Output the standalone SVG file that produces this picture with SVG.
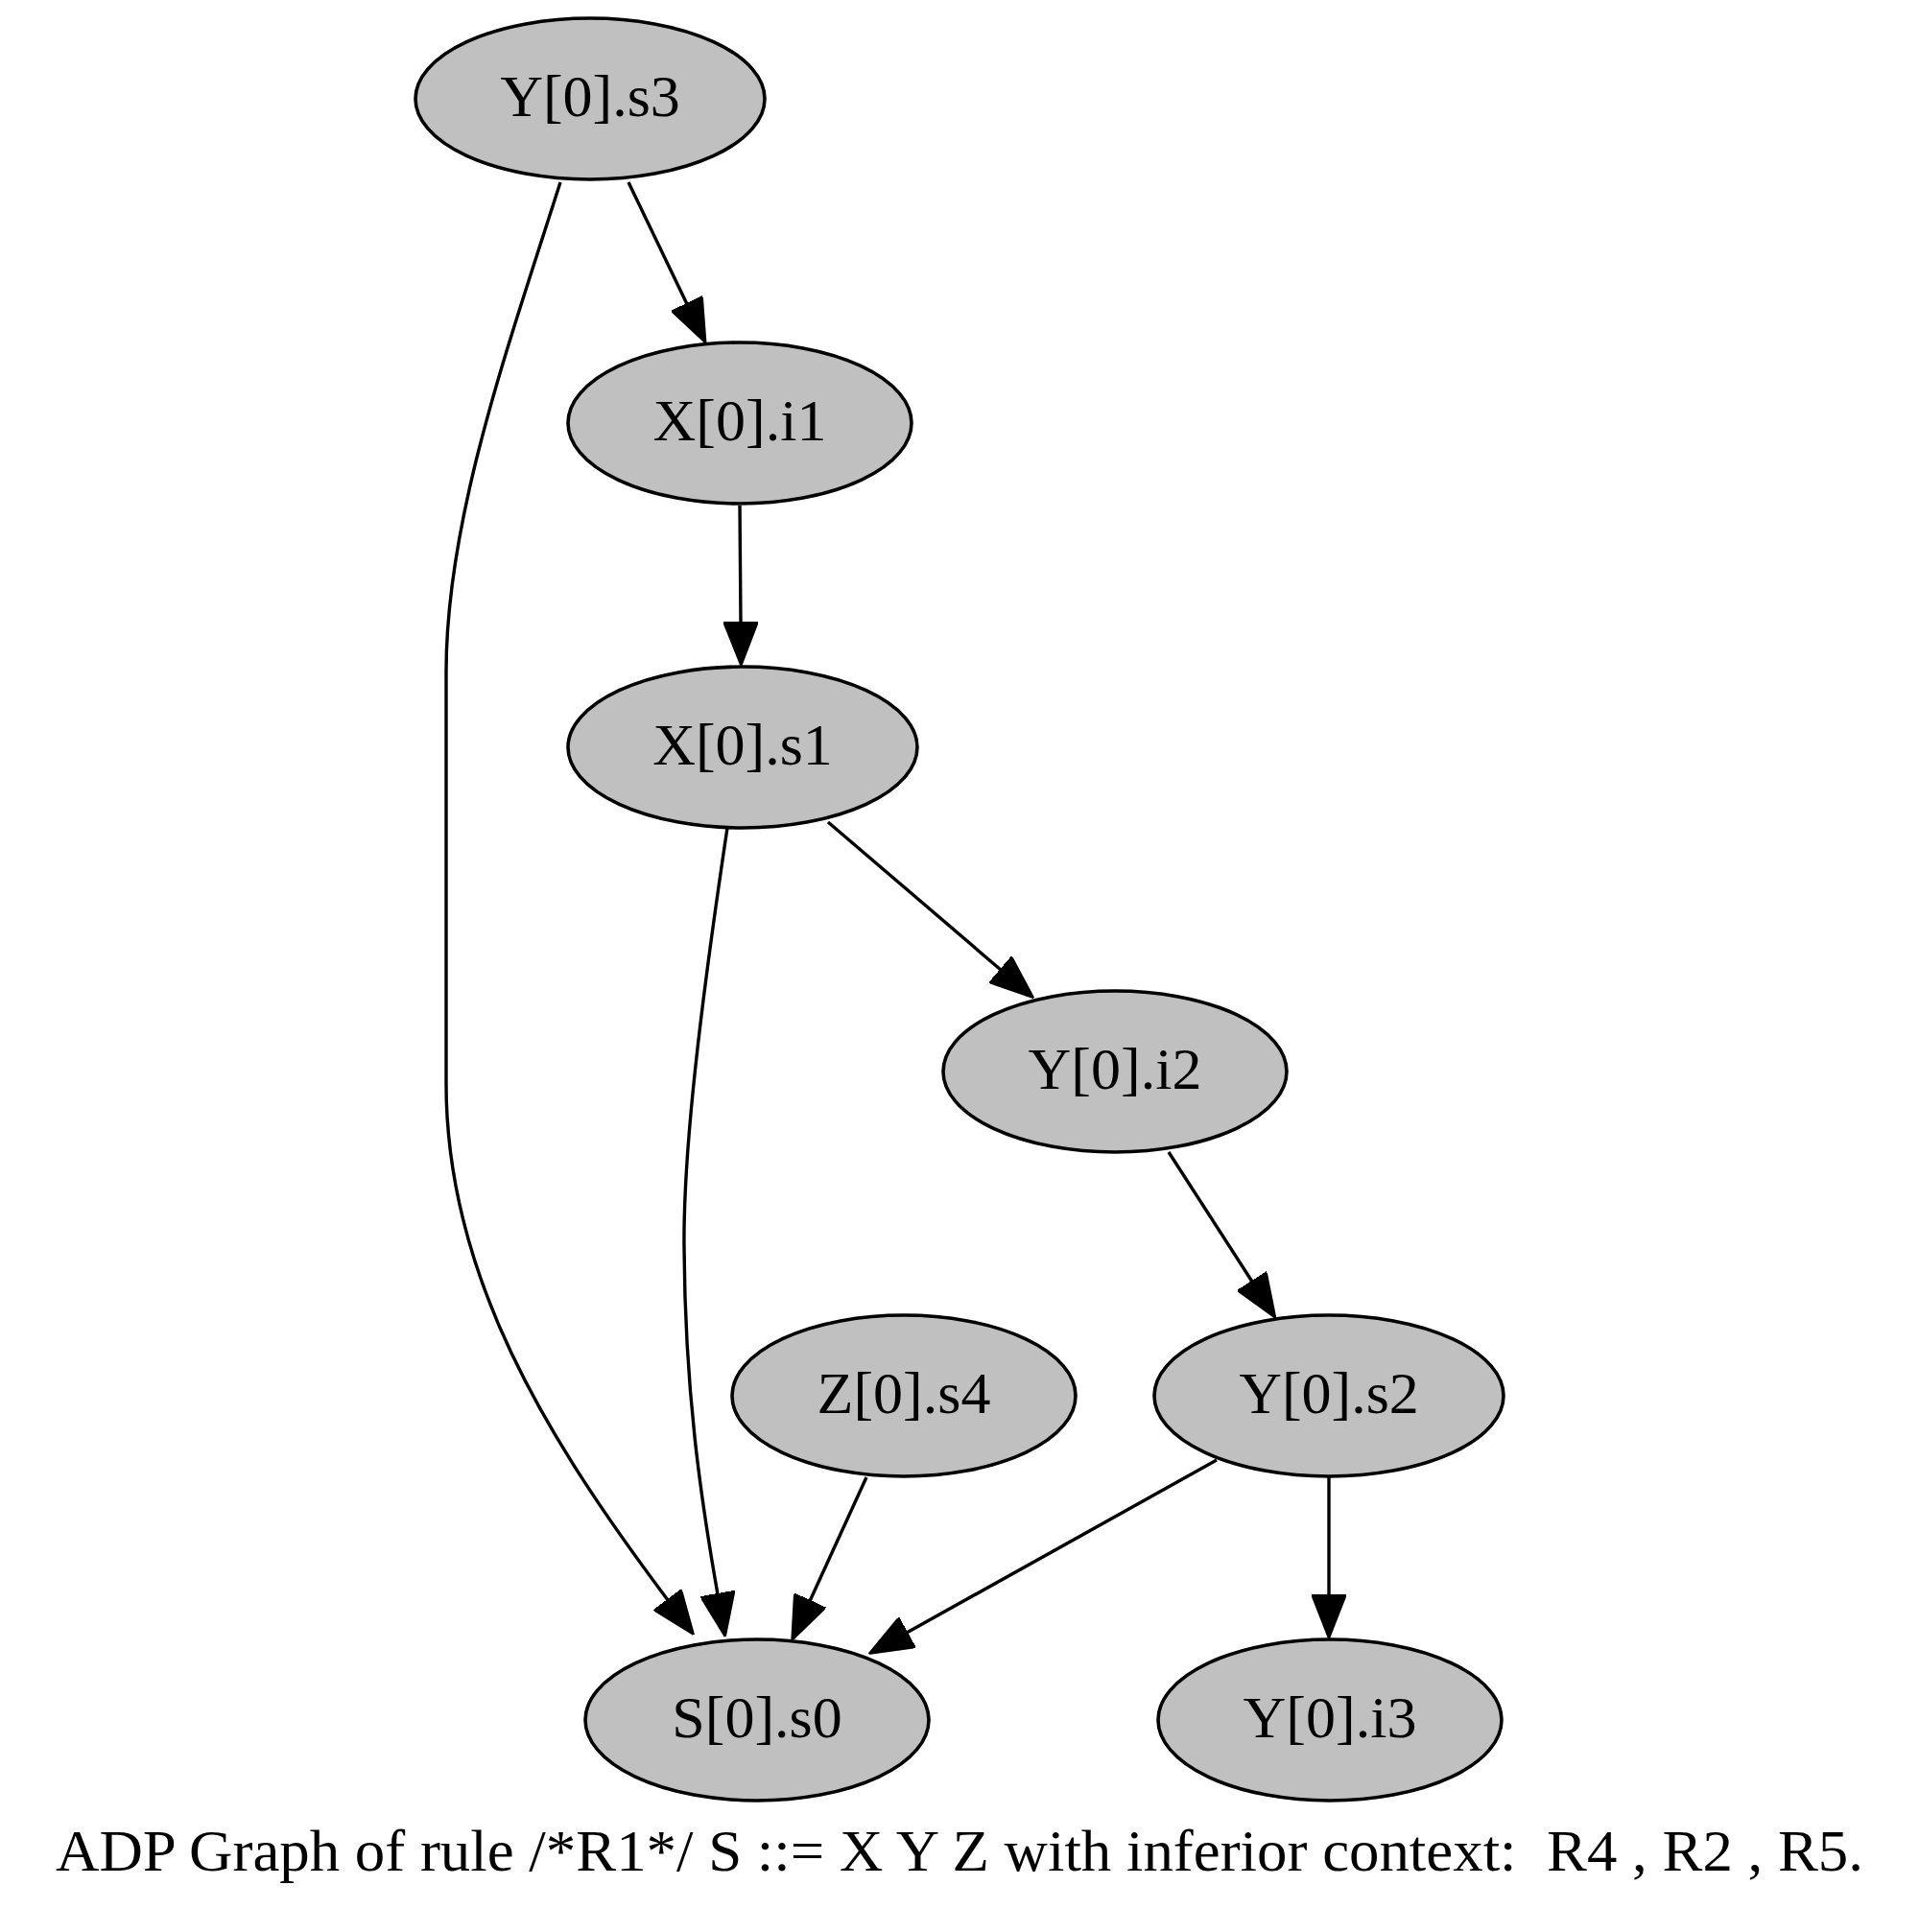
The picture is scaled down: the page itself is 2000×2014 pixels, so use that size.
<svg xmlns="http://www.w3.org/2000/svg" width="2000" height="2014" viewBox="0 0 2000 2014">
<style>
.node ellipse{fill:#c0c0c0;stroke:#000;stroke-width:3.6}
.node text{font-family:"Liberation Serif","Times New Roman",serif;font-size:62px;text-anchor:middle;fill:#000}
.edge{fill:none;stroke:#000;stroke-width:3.4;marker-end:url(#ah)}
.cap{font-family:"Liberation Serif","Times New Roman",serif;font-size:62px;fill:#000}
</style>
<defs>
<marker id="ah" markerUnits="userSpaceOnUse" viewBox="0 0 46 36" refX="1" refY="18" markerWidth="46" markerHeight="36" orient="auto">
<path d="M0,0 L46,18 L0,36 z" fill="#000" stroke="#000" stroke-width="2"/>
</marker>
</defs>
<rect width="2000" height="2014" fill="#fff"/>
<g id="connectors">
<path class="edge" d="M655,190 L716,317"/>
<path class="edge" d="M584,190 C530,360 465,540 465,700 L465,1130 C465,1330 570,1500 696,1668"/>
<path class="edge" d="M771,527 L772,649"/>
<path class="edge" d="M758,863 C730,1050 712,1200 713,1300 C714,1450 730,1560 748,1662"/>
<path class="edge" d="M863,857 L1043,1011"/>
<path class="edge" d="M1218,1201 L1305,1336"/>
<path class="edge" d="M903,1540 L844,1669"/>
<path class="edge" d="M1268,1522 L945,1702"/>
<path class="edge" d="M1385,1539 L1385,1663"/>
</g>
<g id="Y0s3" class="node"><ellipse cx="615" cy="103" rx="182" ry="84"/><text x="615" y="121">Y[0].s3</text></g>
<g id="X0i1" class="node"><ellipse cx="771" cy="441" rx="179" ry="84"/><text x="771" y="459">X[0].i1</text></g>
<g id="X0s1" class="node"><ellipse cx="774" cy="779" rx="182" ry="84"/><text x="774" y="797">X[0].s1</text></g>
<g id="Y0i2" class="node"><ellipse cx="1162" cy="1117" rx="179" ry="84"/><text x="1162" y="1135">Y[0].i2</text></g>
<g id="Z0s4" class="node"><ellipse cx="942" cy="1455" rx="179" ry="84"/><text x="942" y="1473">Z[0].s4</text></g>
<g id="Y0s2" class="node"><ellipse cx="1385" cy="1455" rx="182" ry="84"/><text x="1385" y="1473">Y[0].s2</text></g>
<g id="S0s0" class="node"><ellipse cx="789" cy="1793" rx="179" ry="84"/><text x="789" y="1811">S[0].s0</text></g>
<g id="Y0i3" class="node"><ellipse cx="1386" cy="1793" rx="179" ry="84"/><text x="1386" y="1811">Y[0].i3</text></g>
<text class="cap" x="58" y="1950" textLength="1884" lengthAdjust="spacingAndGlyphs" xml:space="preserve">ADP Graph of rule /*R1*/ S ::= X Y Z with inferior context:  R4 , R2 , R5.</text>
</svg>
